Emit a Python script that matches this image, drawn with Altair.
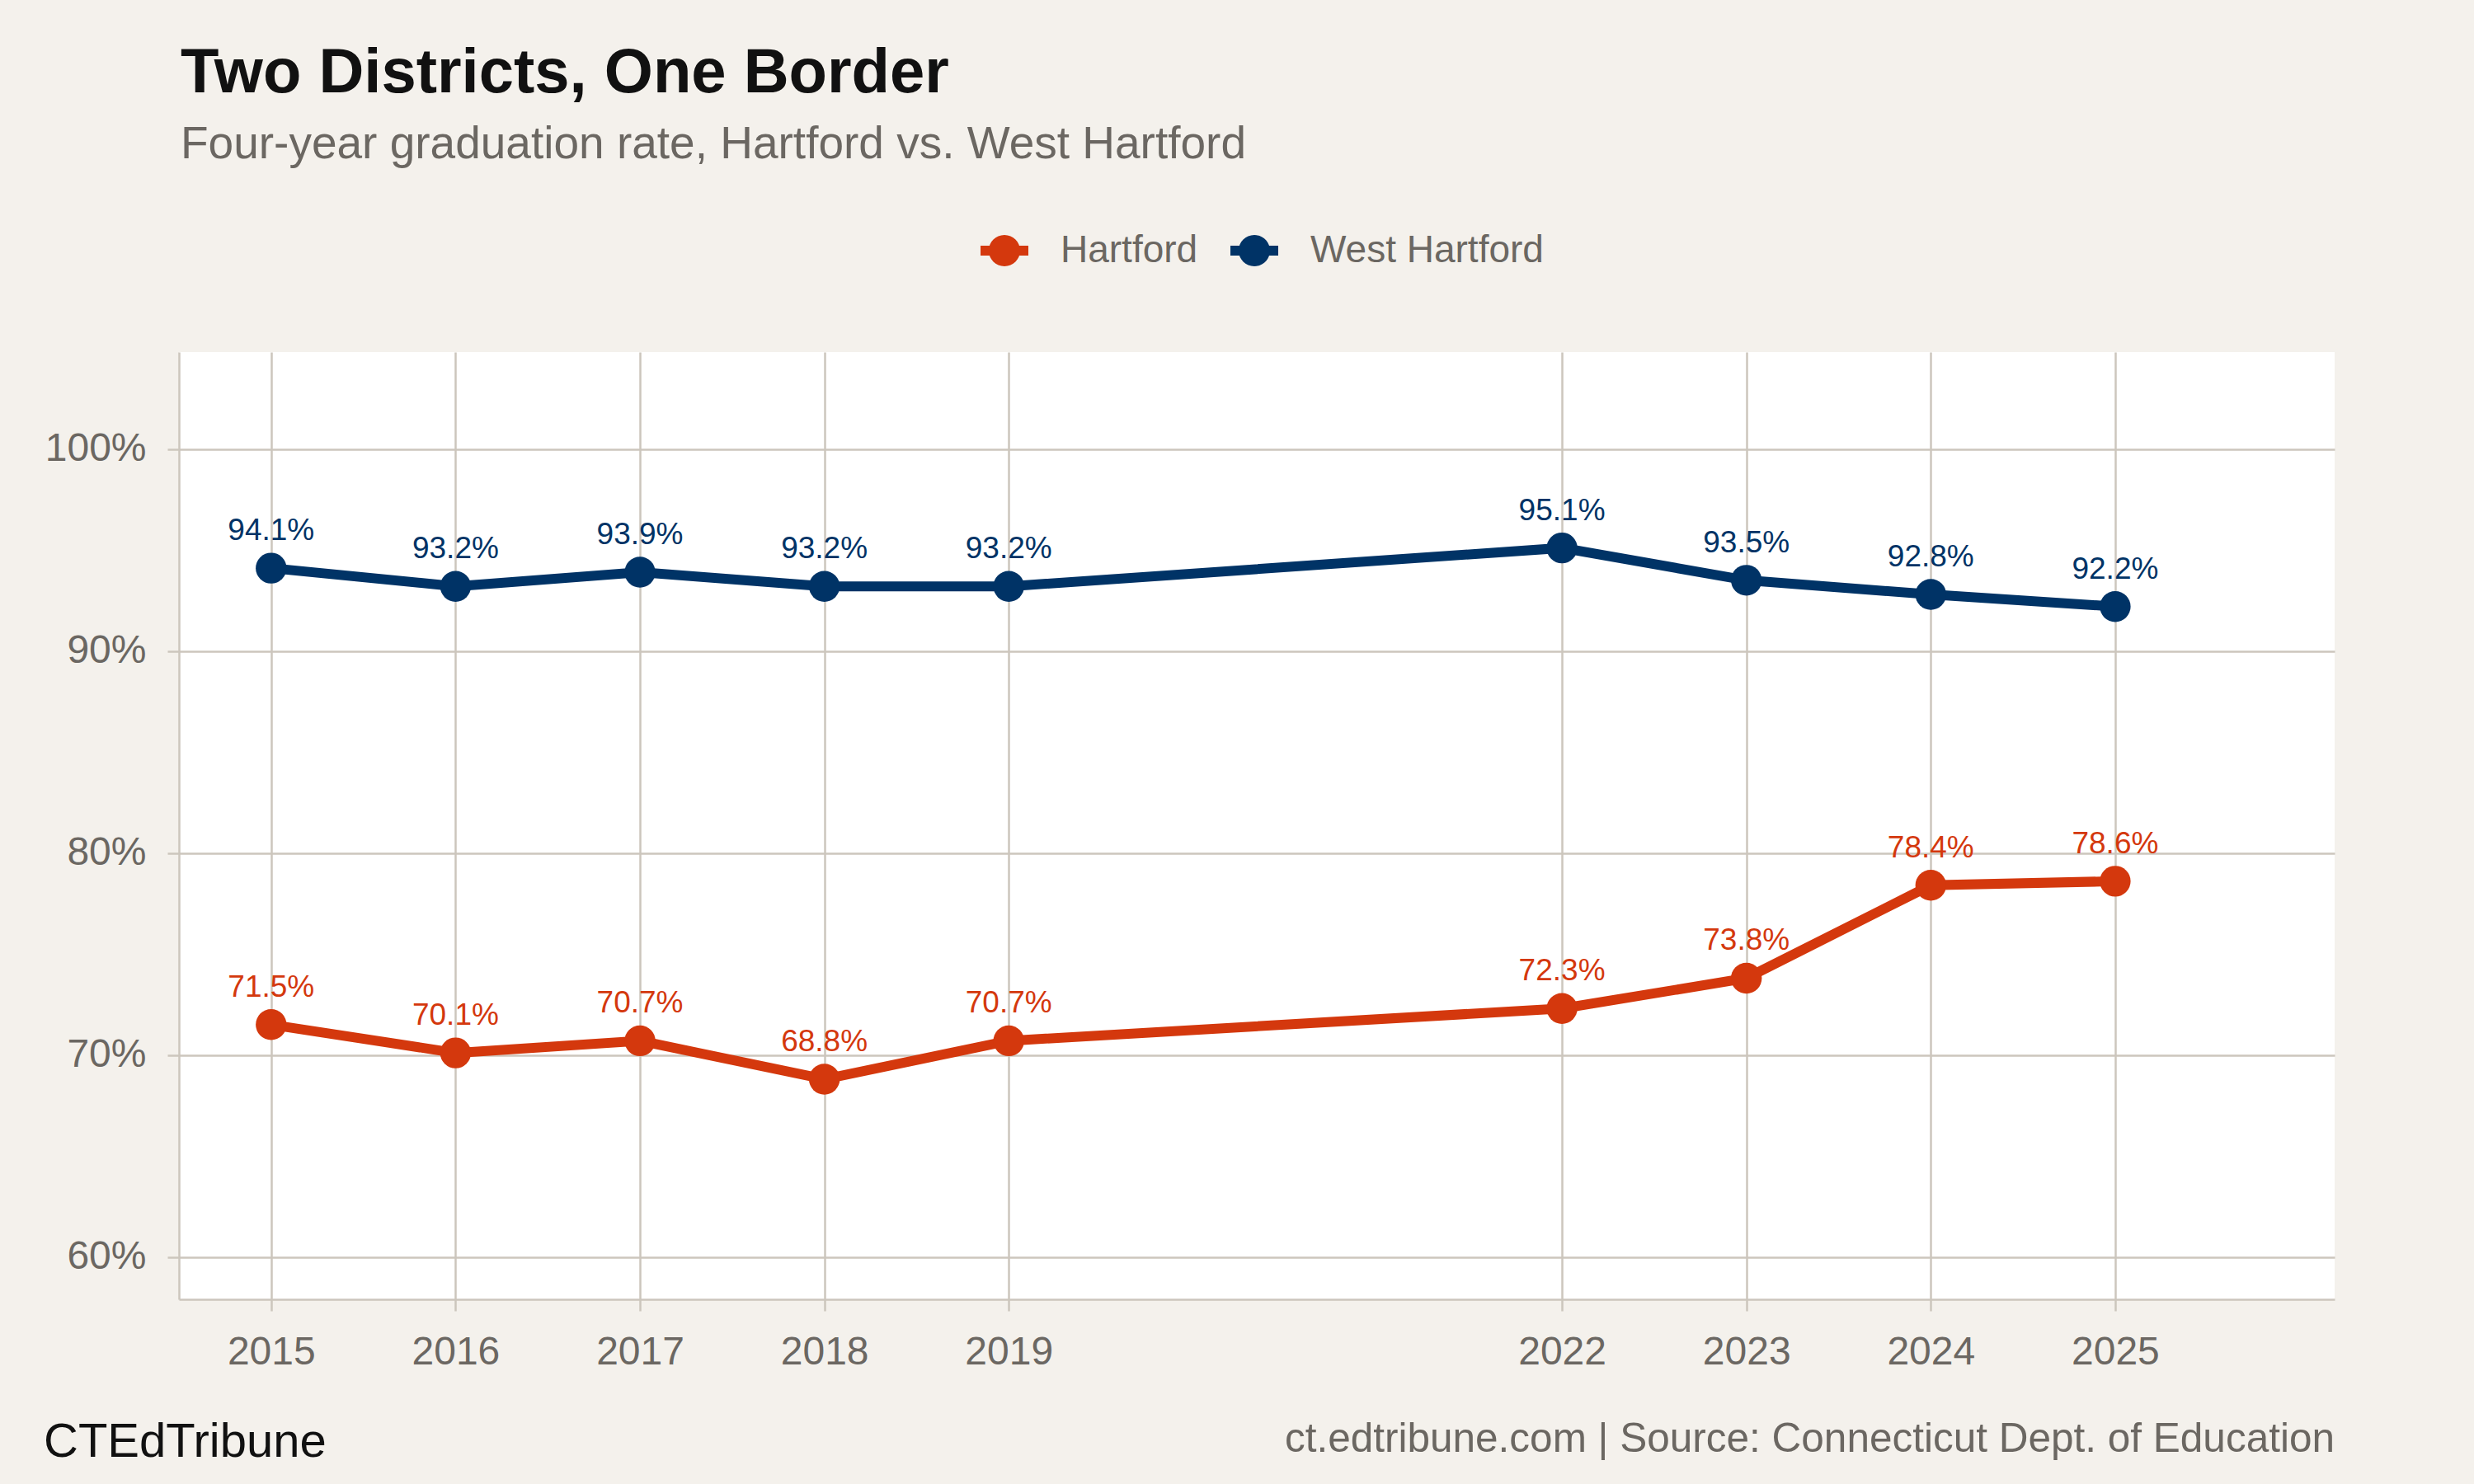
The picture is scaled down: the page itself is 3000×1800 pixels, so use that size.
import altair as alt
import pandas as pd

# Four-year graduation rates (%)
years = [2015, 2016, 2017, 2018, 2019, 2022, 2023, 2024, 2025]
hartford = [71.5, 70.1, 70.7, 68.8, 70.7, 72.3, 73.8, 78.4, 78.6]
west_hartford = [94.1, 93.2, 93.9, 93.2, 93.2, 95.1, 93.5, 92.8, 92.2]
districts = ["Hartford", "West Hartford"]
district_colors = ["#D4380D", "#003366"]
y_ticks = [60, 70, 80, 90, 100]

title_text = "Two Districts, One Border"
subtitle_text = "Four-year graduation rate, Hartford vs. West Hartford"
brand_text = "CTEdTribune"
source_text = "ct.edtribune.com | Source: Connecticut Dept. of Education"

rows = []
for name, series in zip(districts, [hartford, west_hartford]):
    for yr, v in zip(years, series):
        rows.append({"year": yr, "rate": v, "district": name, "label": f"{v:.1f}%"})
df = pd.DataFrame(rows)

FONT = "Liberation Sans"
GRAY = "#6B6762"
GRID = "#CCC6BD"
INK = "#111111"

W, H = 2614, 1149

x = alt.X(
    "year:Q",
    scale=alt.Scale(domain=[2014.5, 2026.19], nice=False, zero=False),
    axis=alt.Axis(values=years, format="d", title=None, grid=True,
                  labelFlush=False, labelOverlap=False),
)
y = alt.Y(
    "rate:Q",
    scale=alt.Scale(domain=[57.9, 104.8], nice=False, zero=False),
    axis=alt.Axis(values=y_ticks, labelExpr="datum.value + '%'", title=None),
)
color_scale = alt.Scale(domain=districts, range=district_colors)

base = alt.Chart(df)

lines = base.mark_line(strokeWidth=12).encode(
    x=x, y=y,
    color=alt.Color("district:N", scale=color_scale, legend=None),
)

points = base.mark_point(filled=True, size=1400, opacity=1, strokeWidth=0).encode(
    x=x, y=y,
    color=alt.Color("district:N", scale=color_scale, legend=alt.Legend(title=None)),
)

labels = base.mark_text(fontSize=37, dy=-34, baseline="alphabetic", font=FONT).encode(
    x=x, y=y, text="label:N",
    color=alt.Color("district:N", scale=color_scale, legend=None),
)


def note(text, xpx, ypx, size, color, weight="normal", align="left"):
    return alt.Chart(pd.DataFrame({"t": [text]})).mark_text(
        align=align, baseline="alphabetic", fontSize=size, font=FONT,
        fontWeight=weight, color=color,
    ).encode(x=alt.value(xpx), y=alt.value(ypx), text="t:N")


title_mark = note(title_text, 2, -315, 76, INK, weight="bold")
subtitle_mark = note(subtitle_text, 2, -235, 55, GRAY)
brand_mark = note(brand_text, -164, 1340, 58, INK)
source_mark = note(source_text, W, 1334, 49.5, GRAY, align="right")

# legend glyph: a short bar with a dot on it
legend_symbol = (
    "M-1,-0.21H1V0.21H-1Z "
    "M0,-0.655A0.655,0.655,0,1,1,0,0.655A0.655,0.655,0,1,1,0,-0.655Z"
)

chart = (
    alt.layer(lines, points, labels, title_mark, subtitle_mark, brand_mark, source_mark)
    .resolve_legend(color="independent")
    .properties(
        width=W,
        height=H,
        autosize=alt.AutoSizeParams(type="none"),
        padding={"left": 217, "top": 427, "right": 169, "bottom": 224},
        background="#F4F1EC",
    )
    .configure_view(fill="white", stroke=None)
    .configure_axis(
        domainColor=GRID, domainWidth=2.5,
        tickColor=GRID, tickWidth=2.5, tickSize=14,
        gridColor=GRID, gridWidth=2.5,
        labelFont=FONT, labelFontSize=48, labelColor=GRAY, labelPadding=26,
    )
    .configure_legend(
        orient="none", legendX=972, legendY=-152, direction="horizontal",
        symbolType=legend_symbol, symbolSize=3364, symbolStrokeWidth=0,
        labelFont=FONT, labelFontSize=46, labelColor=GRAY, labelLimit=0,
        labelOffset=39, columnPadding=39, padding=0,
    )
)

chart.save("out.html", embed_options={"renderer": "svg", "actions": False})
